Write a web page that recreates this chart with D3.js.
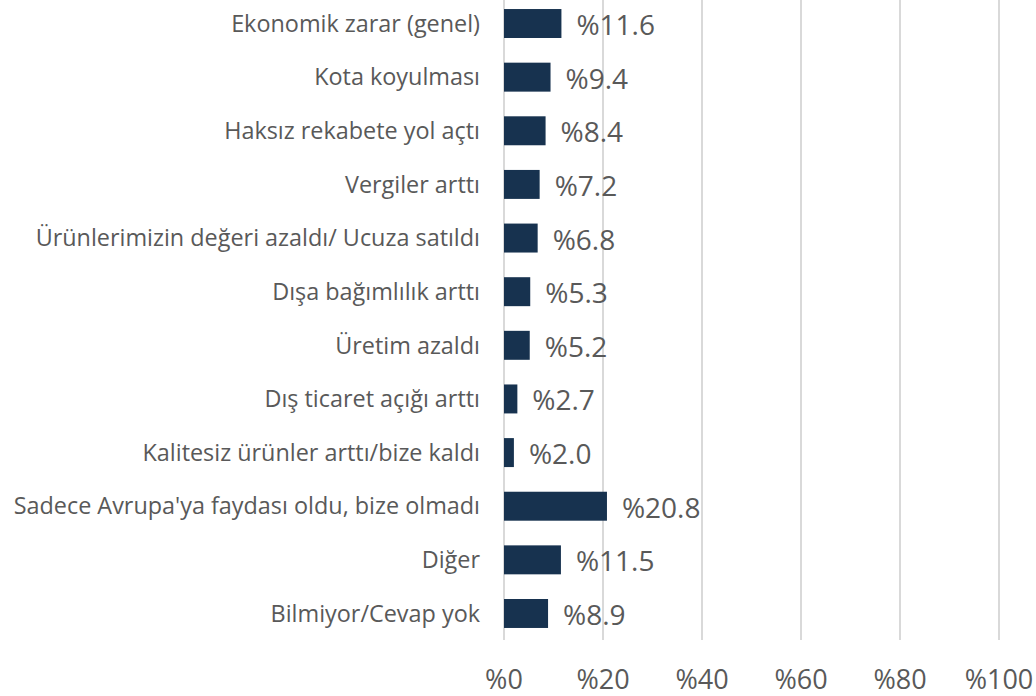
<!DOCTYPE html>
<html>
<head>
<meta charset="utf-8">
<script src="https://cdn.jsdelivr.net/npm/d3@7"></script>
<style>
  html, body { margin: 0; padding: 0; background: #ffffff; }
  svg { display: block; }
</style>
</head>
<body>
<svg id="chart" width="1036" height="696"></svg>
<script>
// Categories (top to bottom) and their shares in percent
const categories = [
  "Ekonomik zarar (genel)",
  "Kota koyulması",
  "Haksız rekabete yol açtı",
  "Vergiler arttı",
  "Ürünlerimizin değeri azaldı/ Ucuza satıldı",
  "Dışa bağımlılık arttı",
  "Üretim azaldı",
  "Dış ticaret açığı arttı",
  "Kalitesiz ürünler arttı/bize kaldı",
  "Sadece Avrupa'ya faydası oldu, bize olmadı",
  "Diğer",
  "Bilmiyor/Cevap yok"
];
const values = [11.6, 9.4, 8.4, 7.2, 6.8, 5.3, 5.2, 2.7, 2.0, 20.8, 11.5, 8.9];
const tickValues = [0, 20, 40, 60, 80, 100];

const svg = d3.select("#chart");
const font = "'Open Sans', 'Noto Sans', sans-serif";
const textColor = "#595959";
const barColor = "#17324f";

const x = d3.scaleLinear().domain([0, 100]).range([504, 999]);
const y = d3.scaleBand().domain(categories).range([-3.3, 640.3]).paddingInner(0.46).paddingOuter(0.23);

// Vertical gridlines
svg.append("g")
  .selectAll("line")
  .data(tickValues)
  .join("line")
  .attr("x1", d => x(d)).attr("x2", d => x(d))
  .attr("y1", 0).attr("y2", 640)
  .attr("stroke", "#d9d9d9")
  .attr("stroke-width", 2);

// Bottom tick labels
svg.append("g")
  .selectAll("text")
  .data(tickValues)
  .join("text")
  .attr("x", d => x(d))
  .attr("y", 688.5)
  .attr("text-anchor", "middle")
  .attr("font-family", font)
  .attr("font-size", 27)
  .attr("fill", textColor)
  .text(d => "%" + d);

// Bars
svg.append("g")
  .selectAll("rect")
  .data(values)
  .join("rect")
  .attr("x", x(0))
  .attr("y", (d, i) => y(categories[i]))
  .attr("width", d => x(d) - x(0))
  .attr("height", y.bandwidth())
  .attr("fill", barColor);

// Value labels
svg.append("g")
  .selectAll("text")
  .data(values)
  .join("text")
  .attr("x", d => x(d) + 15)
  .attr("y", (d, i) => y(categories[i]) + y.bandwidth() / 2)
  .attr("dy", "0.41em")
  .attr("font-family", font)
  .attr("font-size", 28)
  .attr("fill", textColor)
  .text(d => "%" + d.toFixed(1));

// Category labels
svg.append("g")
  .selectAll("text")
  .data(categories)
  .join("text")
  .attr("x", 480)
  .attr("y", d => y(d) + y.bandwidth() / 2)
  .attr("dy", "0.35em")
  .attr("text-anchor", "end")
  .attr("font-family", font)
  .attr("font-size", 23.4)
  .attr("fill", textColor)
  .text(d => d);
</script>
</body>
</html>
